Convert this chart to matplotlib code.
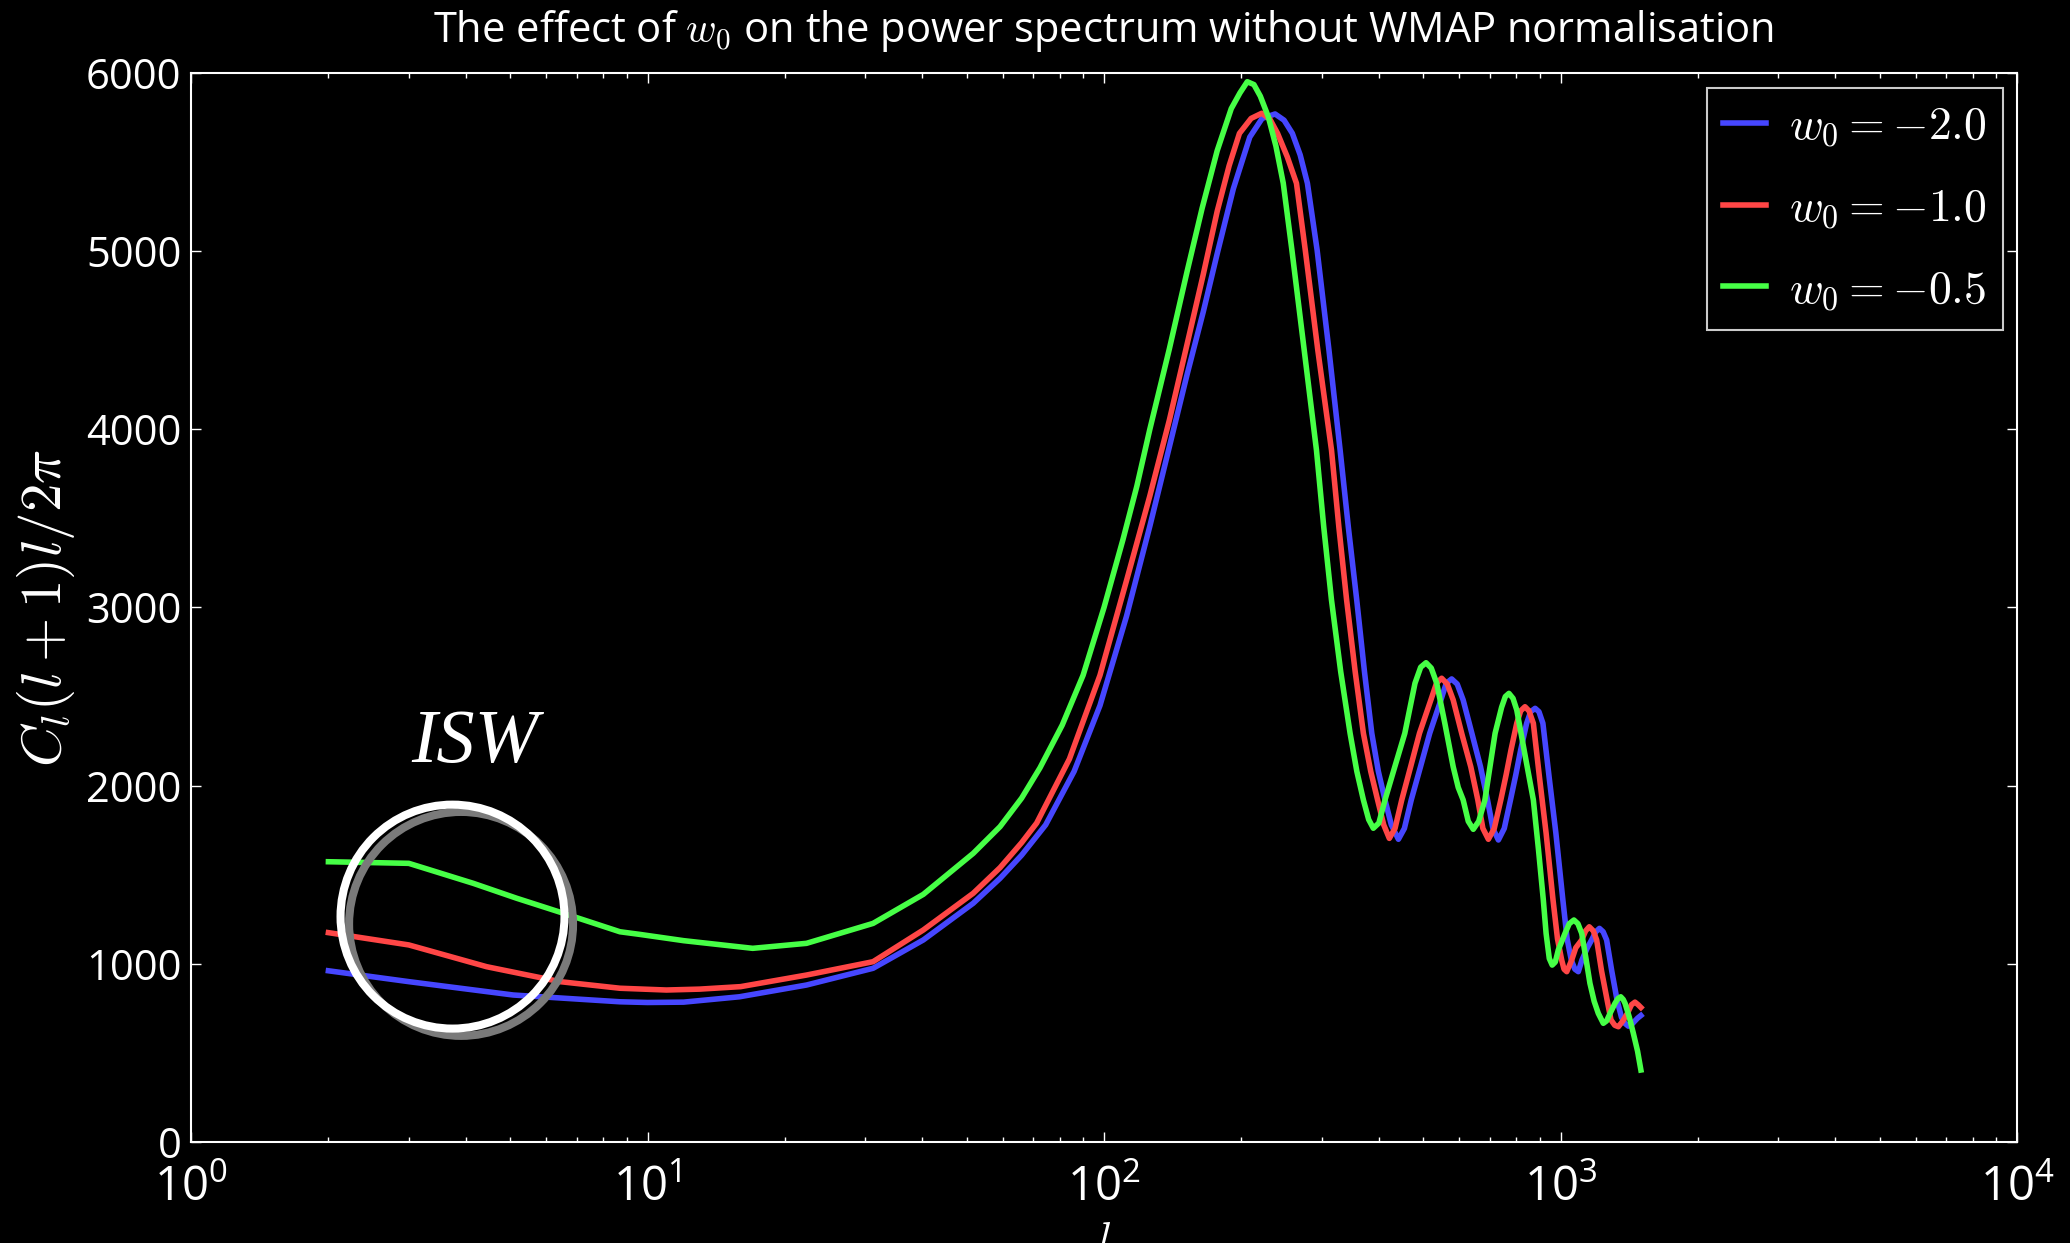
import matplotlib
matplotlib.use("Agg")
import matplotlib.pyplot as plt
import numpy as np

# C_l l(l+1)/2pi against multipole l
ell_blue = [2, 3, 5.08, 8.7, 10, 12, 15.9, 22.3, 31.2, 40.2, 51.7, 59.2, 66, 74.5, 86, 98, 112,
            126, 139, 152, 165, 177, 192, 208.6, 222, 237, 248, 258.6, 269, 279, 293, 311,
            329, 343, 357.8, 372, 386, 399, 412.6, 426, 441.5, 455, 471, 494, 517, 547,
            562, 577.5, 594, 612, 640, 668, 692, 711, 731, 753, 777, 798, 818, 843, 860, 880,
            897, 915, 945, 977, 1012, 1034, 1056, 1075, 1094, 1114, 1145, 1170, 1195, 1217,
            1240, 1262, 1295, 1330, 1360, 1385, 1408, 1430, 1450, 1475, 1500]
cl_blue = [961, 900, 825, 787, 783, 785, 815, 881, 975, 1134, 1340, 1480, 1610, 1780, 2080, 2450,
           2950, 3456, 3900, 4306, 4660, 4986, 5350, 5640, 5745, 5770, 5735, 5661, 5540, 5381,
           5006, 4445, 3884, 3450, 3042, 2640, 2294, 2080, 1920, 1780, 1699, 1760, 1920,
           2110, 2294, 2481, 2575, 2599, 2570, 2481, 2290, 2106, 1920, 1760, 1695, 1760, 1920,
           2060, 2200, 2350, 2415, 2434, 2415, 2350, 2040, 1733, 1358, 1140, 1021, 970, 956, 1021,
           1090, 1134, 1180, 1199, 1180, 1134, 960, 797, 700, 665, 650, 658, 675, 695, 710]

ell_red = [2, 3, 4.44, 6.43, 8.7, 11, 13, 16, 22.3, 31.2, 40.2, 51.7, 59.2, 66, 71.2, 84, 98, 112,
           126, 139, 152, 165, 177, 188, 198, 210, 221.6, 231, 240, 252, 264, 276, 294,
           315, 327, 340, 355, 370, 384, 397.5, 410, 421.7, 434, 449, 470, 491, 520, 535, 549,
           565, 582, 608, 636, 659, 676, 695, 716, 740, 760, 779, 802, 818, 836, 853, 872, 900,
           930, 963, 985, 1006, 1018, 1032, 1058, 1080, 1113, 1135, 1156, 1180, 1200, 1230,
           1265, 1290, 1315, 1339, 1370, 1400, 1430, 1456, 1480, 1500]
cl_red = [1175, 1106, 984, 900, 863, 853, 858, 872, 937, 1012, 1190, 1396, 1540, 1680, 1790, 2150,
          2620, 3150, 3626, 4050, 4476, 4870, 5224, 5480, 5661, 5745, 5774, 5740, 5661, 5530,
          5381, 5006, 4445, 3884, 3450, 3042, 2640, 2294, 2080, 1920, 1780, 1704, 1760,
          1920, 2110, 2294, 2481, 2575, 2603, 2570, 2481, 2290, 2106, 1920, 1760, 1699, 1760,
          1920, 2060, 2200, 2350, 2420, 2443, 2420, 2350, 2040, 1733, 1358, 1140, 1021, 970, 956,
          1021, 1090, 1134, 1185, 1208, 1185, 1134, 960, 797, 685, 655, 647, 680, 720, 770, 785,
          770, 755]

ell_green = [2, 3, 4.15, 5.17, 6.54, 8.7, 9.63, 12, 17, 22.3, 31.2, 40.2, 51.7, 59.2, 66, 72.4,
             81, 90, 100, 110, 118, 126, 139, 152, 164, 177, 190, 198.5, 206, 213, 220, 229, 238,
             247, 258, 274.5, 292, 303, 315, 330, 346, 358, 370, 380, 389, 400, 412.6, 434,
             456, 470, 480, 494, 507.5, 521, 535.6, 558, 582, 597, 612, 628, 644, 662, 683, 700,
             719, 743, 757, 771, 787, 802, 835, 872, 895, 917, 930, 945, 959, 974, 989, 1023,
             1045, 1070, 1092, 1113, 1137, 1160, 1185, 1210, 1241, 1262, 1284, 1316, 1336, 1355,
             1372, 1385, 1415, 1444, 1475, 1500]
cl_green = [1573, 1564, 1452, 1368, 1284, 1180, 1165, 1130, 1087, 1115, 1227, 1390, 1620, 1770,
            1930, 2100, 2340, 2620, 3000, 3380, 3680, 4000, 4450, 4884, 5240, 5564, 5800, 5888,
            5951, 5935, 5870, 5755, 5590, 5381, 5006, 4445, 3884, 3450, 3042, 2640, 2294,
            2080, 1920, 1810, 1761, 1790, 1920, 2110, 2294, 2460, 2575, 2665, 2690, 2660, 2575,
            2350, 2106, 1990, 1920, 1800, 1755, 1800, 1920, 2100, 2294, 2440, 2500, 2518, 2490,
            2425, 2180, 1920, 1640, 1358, 1170, 1030, 993, 1010, 1078, 1171, 1225, 1246, 1225,
            1171, 1030, 891, 790, 722, 666, 680, 722, 778, 805, 815, 800, 778, 700, 610, 510, 404]

labels = [r"$w_0=-2.0$", r"$w_0=-1.0$", r"$w_0=-0.5$"]
colors = ["#4646ff", "#ff4646", "#46ff46"]
y_ticks = [0, 1000, 2000, 3000, 4000, 5000, 6000]

# ISW annotation: ring centre (data coords) and label position
isw_centre = (3.74, 1265)
isw_shadow = (3.905, 1224)
isw_text = (4.19, 2239)

plt.rcParams["font.family"] = "Open Sans"
plt.rcParams["mathtext.fontset"] = "custom"
plt.rcParams["mathtext.rm"] = "Open Sans"
plt.rcParams["mathtext.it"] = "Open Sans:italic"
plt.rcParams["mathtext.bf"] = "Open Sans:bold"

fig = plt.figure(figsize=(20.7, 12.43), dpi=100, facecolor="black")
ax = fig.add_axes([0.09227, 0.08126, 0.88213, 0.86002], facecolor="black")

series = [(ell_blue, cl_blue), (ell_red, cl_red), (ell_green, cl_green)]
for (ell, cl), lab, col in zip(series, labels, colors):
    ax.plot(ell, cl, color=col, lw=4, label=lab, solid_joinstyle="round")

ax.set_xscale("log")
ax.set_xlim(1, 1e4)
ax.set_ylim(0, 6000)
ax.set_yticks(y_ticks)

for sp in ax.spines.values():
    sp.set_color("white")
    sp.set_linewidth(1.5)
ax.tick_params(which="both", direction="in", colors="white", top=True, right=True)
ax.tick_params(which="major", length=7, width=1, pad=8)
ax.tick_params(which="minor", length=3.5, width=1)
ax.tick_params(axis="y", labelsize=30, pad=7)
ax.tick_params(axis="x", labelsize=34, pad=16)

ax.set_title(r"The effect of $w_0$ on the power spectrum without WMAP normalisation",
             color="white", fontsize=30, pad=22, math_fontfamily="cm")
ax.set_ylabel(r"$C_l(l+1)l/2\pi$", color="white", fontsize=41, labelpad=6,
              math_fontfamily="cm")
ax.set_xlabel(r"$l$", color="white", fontsize=30, labelpad=6, math_fontfamily="cm")

# ISW ring with a grey drop shadow
ax.scatter(*isw_shadow, s=26000, facecolors="none", edgecolors="#7a7a7a", linewidths=5.8,
           zorder=4)
ax.scatter(*isw_centre, s=26000, facecolors="none", edgecolors="white", linewidths=5.8,
           zorder=5)
ax.text(*isw_text, "ISW", family="Liberation Serif", style="italic", fontsize=55,
        color="white", ha="center", va="center")

leg = ax.legend(loc="upper right", bbox_to_anchor=(2003 / 2070, 1 - 88 / 1243),
                bbox_transform=fig.transFigure, borderaxespad=0, fancybox=False,
                prop={"size": 33, "math_fontfamily": "cm"}, handlelength=0.95,
                handletextpad=0.5, labelspacing=0.78, borderpad=0.35)
leg.get_frame().set_facecolor("black")
leg.get_frame().set_edgecolor("white")
leg.get_frame().set_linewidth(1.5)
for t in leg.get_texts():
    t.set_color("white")

fig.savefig("out.png", dpi=100, facecolor="black")
